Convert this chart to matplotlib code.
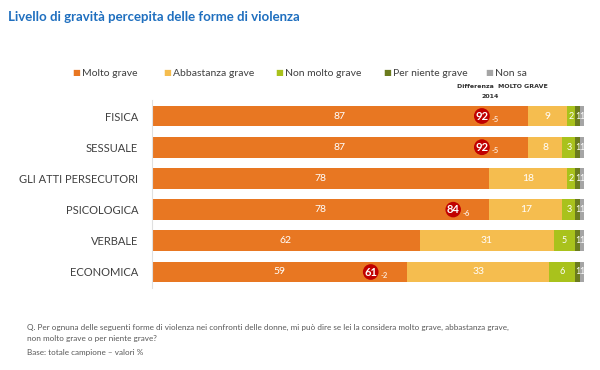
import matplotlib
matplotlib.use('Agg')
import matplotlib.pyplot as plt
import numpy as np

plt.rcParams['font.family'] = ['Lato', 'DejaVu Sans']

# dati
categorie = ['FISICA', 'SESSUALE', 'GLI ATTI PERSECUTORI', 'PSICOLOGICA', 'VERBALE', 'ECONOMICA']
serie = ['Molto grave', 'Abbastanza grave', 'Non molto grave', 'Per niente grave', 'Non sa']
molto_grave = [87, 87, 78, 78, 62, 59]
abbastanza_grave = [9, 8, 18, 17, 31, 33]
non_molto_grave = [2, 3, 2, 3, 5, 6]
per_niente_grave = [1, 1, 1, 1, 1, 1]
non_sa = [1, 1, 1, 1, 1, 1]
# valori 2014 (molto grave) e differenza
valori_2014 = [92, 92, None, 84, None, 61]
differenza = [-5, -5, None, -6, None, -2]

colori = ['#E87722', '#F5BD4F', '#A9C21C', '#6B7B1E', '#A5A5A5']

fig = plt.figure(figsize=(6, 3.7), dpi=100)
ax = fig.add_axes([152 / 600, 1 - 287.6 / 370, 432 / 600, 187.2 / 370])

y = np.arange(len(categorie))
valori = [molto_grave, abbastanza_grave, non_molto_grave, per_niente_grave, non_sa]
left = np.zeros(len(categorie))
for i, (vals, col) in enumerate(zip(valori, colori)):
    vals = np.array(vals)
    ax.barh(y, vals, left=left, height=0.67, color=col, edgecolor='none')
    for j, v in enumerate(vals):
        cx = left[j] + v / 2
        fs = 6.5 if i >= 2 else 7.5
        ax.text(cx, y[j], str(v), ha='center', va='center', color='white', fontsize=fs)
    left += vals

# cerchi con il valore 2014
for j, (v, d) in enumerate(zip(valori_2014, differenza)):
    if v is None:
        continue
    cx = v * 0.83
    ax.text(cx, y[j], str(v), ha='center', va='center', color='white', fontsize=8,
            fontweight='bold', family=['Liberation Sans Narrow', 'Lato'],
            bbox=dict(boxstyle='circle,pad=0.12', fc='#C00000', ec='none'), zorder=5)
    ax.text(cx + 2.2, y[j] + 0.12, str(d), ha='left', va='center', color='#FBE3D0', fontsize=5.5,
            fontweight='bold', zorder=5)

ax.set_xlim(0, 100)
ax.set_ylim(len(categorie) - 0.5, -0.5)
ax.set_yticks(y)
ax.set_yticklabels(categorie, fontsize=8, color='#404040')
ax.tick_params(axis='y', length=0, pad=10)
ax.set_xticks([])
for s in ['top', 'right', 'bottom']:
    ax.spines[s].set_visible(False)
ax.spines['left'].set_color('#E0E0E0')
ax.spines['left'].set_linewidth(0.8)

# titolo
fig.text(8 / 600, 1 - 17 / 370, 'Livello di gravità percepita delle forme di violenza',
         fontsize=9.5, fontweight='bold', color='#1F6FBF', ha='left', va='center')

# legenda
leg_x = [72, 163, 275, 383, 485]
for lx, nome, col in zip(leg_x, serie, colori):
    fig.text(lx / 600, 1 - 73 / 370, '■', color=col, fontsize=6, ha='left', va='center',
             family='DejaVu Sans')
    fig.text((lx + 10) / 600, 1 - 73 / 370, nome, color='#404040', fontsize=7.5, ha='left', va='center')

fig.text(502 / 600, 1 - 86 / 370, 'Differenza  MOLTO GRAVE', fontsize=4.5, ha='center', va='center',
         color='#303030', fontweight='bold', family=['Liberation Sans Narrow', 'DejaVu Sans'])
fig.text(490 / 600, 1 - 96 / 370, '2014', fontsize=4.5, ha='center', va='center',
         color='#303030', fontweight='bold', family=['Liberation Sans Narrow', 'DejaVu Sans'])

# nota
fig.text(27 / 600, 1 - 327 / 370,
         'Q. Per ognuna delle seguenti forme di violenza nei confronti delle donne, mi può dire se lei la considera molto grave, abbastanza grave,',
         fontsize=5.9, color='#595959', ha='left', va='center')
fig.text(27 / 600, 1 - 338 / 370, 'non molto grave o per niente grave?',
         fontsize=5.9, color='#595959', ha='left', va='center')
fig.text(27 / 600, 1 - 352 / 370, 'Base: totale campione – valori %',
         fontsize=5.9, color='#595959', ha='left', va='center')

fig.savefig('out.png', dpi=100)
